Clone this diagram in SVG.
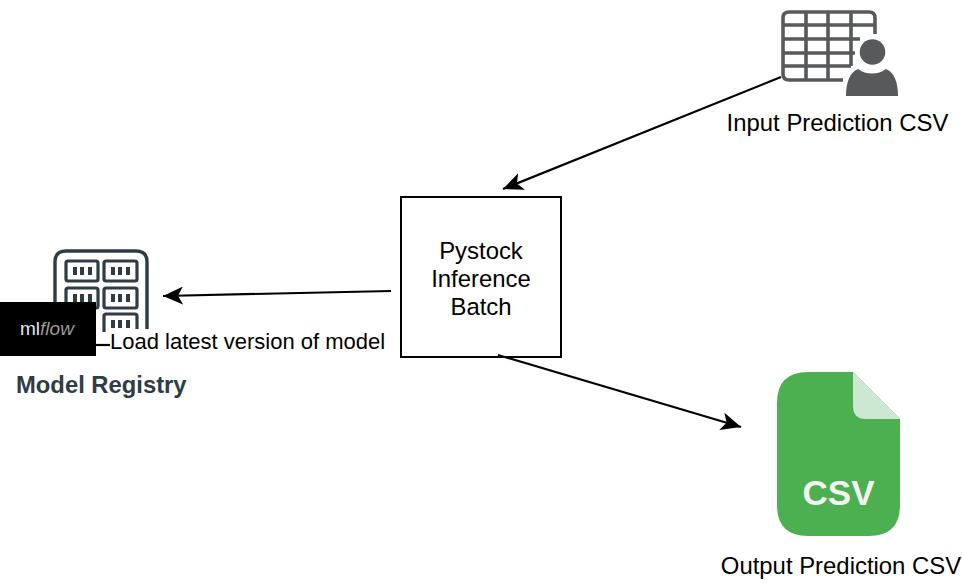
<svg xmlns="http://www.w3.org/2000/svg" width="962" height="588" viewBox="0 0 962 588">
<style>
text{font-family:"Liberation Sans",Arial,sans-serif;fill:#000}
.lbl{font-size:23.9px;text-anchor:middle}
.edge{fill:none;stroke:#000;stroke-width:2.2}
.cell{fill:none;stroke:#2f3b45;stroke-width:3.2}
.tick{fill:#2f3b45}
.grid{stroke:#58595b;stroke-width:3.6;fill:none}
</style>
<defs>
<marker id="arrow" markerUnits="userSpaceOnUse" markerWidth="22" markerHeight="18" refX="20" refY="9" orient="auto">
<path d="M0 0L20 9L0 18L5 9Z" fill="#000"/>
</marker>
</defs>
<rect width="962" height="588" fill="#fff"/>
<g id="input-csv">
<path class="grid" stroke-linejoin="round" d="M843 80H789Q783 80 783 74V18Q783 12 789 12H869Q875 12 875 18V34"/>
<path class="grid" d="M783 25H875M783 39H860M783 53H855M783 66H851M806 12V80M828 12V80M851 12V66"/>
<circle cx="872.5" cy="52" r="16" fill="#fff"/>
<path fill="#fff" d="M842 98C842 80 848 68 858 65C866 71 878 71 886 65C896 68 902 80 902 98Z"/>
<circle cx="872.5" cy="52" r="12.8" fill="#58595b"/>
<path fill="#58595b" d="M846 96C846 82 850 72 858 69C866 75 878 75 886 69C894 72 898 82 898 96Z"/>
<text class="lbl" x="837.5" y="131">Input Prediction CSV</text>
</g>
<g id="inference-batch">
<rect x="401" y="197" width="160" height="160" fill="#fff" stroke="#000" stroke-width="2"/>
<text class="lbl" x="481" y="259">Pystock</text>
<text class="lbl" x="481" y="287">Inference</text>
<text class="lbl" x="481" y="315">Batch</text>
</g>
<g id="model-registry">
<path fill="none" stroke="#2f3b45" stroke-width="3.4" d="M55 305V262Q55 251 66 251H136Q147 251 147 262V330"/>
<rect class="cell" x="66" y="261" width="32" height="20" rx="2"/>
<rect class="cell" x="104" y="261" width="33" height="20" rx="2"/>
<rect class="cell" x="66" y="288" width="32" height="20" rx="2"/>
<rect class="cell" x="104" y="288" width="33" height="20" rx="2"/>
<path class="cell" d="M104 332V316Q104 314 106 314H135Q137 314 137 316V330"/>
<path class="tick" d="M73 267h4v8h-4zM80 267h4v8h-4zM88 267h4v8h-4zM111 267h4v8h-4zM118 267h4v8h-4zM126 267h4v8h-4zM73 294h4v8h-4zM80 294h4v8h-4zM88 294h4v8h-4zM111 294h4v8h-4zM118 294h4v8h-4zM126 294h4v8h-4zM111 320h4v8h-4zM118 320h4v8h-4zM126 320h4v8h-4z"/>
<rect x="0" y="302" width="96" height="54" fill="#000"/>
<text x="20" y="335" font-size="19" style="fill:#e8e8e8">ml<tspan font-style="italic" style="fill:#9a9a9a">flow</tspan></text>
<rect x="110" y="329" width="275" height="26" fill="#fff"/>
<text x="110" y="349" font-size="22">Load latest version of model</text>
<text x="16" y="393" font-size="23.8" font-weight="700" style="fill:#2f3b45">Model Registry</text>
</g>
<g id="output-csv">
<path fill="#4caf50" d="M808 372H853L900 419V505Q900 536 869 536H808Q777 536 777 505V403Q777 372 808 372Z"/>
<path fill="#cde8d2" d="M853 372L900 419H866Q853 419 853 406Z"/>
<text x="838.5" y="505" font-size="35" font-weight="700" text-anchor="middle" textLength="72" lengthAdjust="spacingAndGlyphs" style="fill:#f2f2f2">CSV</text>
<text class="lbl" x="841" y="574">Output Prediction CSV</text>
</g>
<g id="connectors">
<path class="edge" d="M781 77L503 189" marker-end="url(#arrow)"/>
<path class="edge" d="M391 291L163 296" marker-end="url(#arrow)"/>
<path class="edge" d="M498 355L741 427" marker-end="url(#arrow)"/>
<path class="edge" d="M96 345H110"/>
</g>
</svg>
